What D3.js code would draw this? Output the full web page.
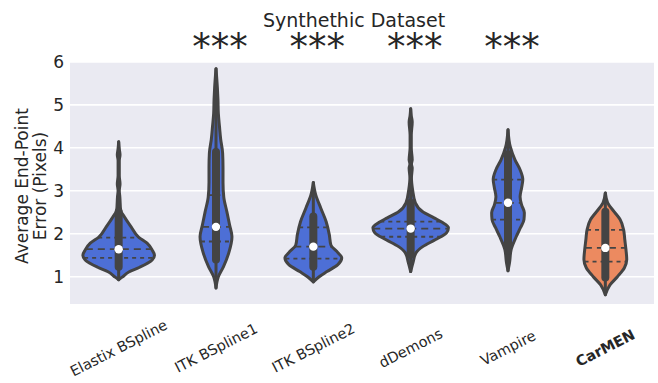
<!DOCTYPE html>
<html>
<head>
<meta charset="utf-8">
<script src="https://cdn.jsdelivr.net/npm/d3@7"></script>
<style>
  html, body { margin: 0; padding: 0; background: #ffffff; }
  svg { display: block; font-family: "DejaVu Sans", sans-serif; }
</style>
</head>
<body>
<svg id="chart" width="658" height="383"></svg>
<script>
// Registration methods compared on the synthetic dataset
const methods = ["Elastix BSpline", "ITK BSpline1", "ITK BSpline2", "dDemons", "Vampire", "CarMEN"];
const significance = ["", "***", "***", "***", "***", ""];
const yTicks = [1, 2, 3, 4, 5, 6];

// Kernel density profiles: [error in pixels, relative density]
const elastixProfile = [[0.93,0],[0.99,0.09],[1.11,0.26],[1.22,0.54],[1.39,0.86],[1.50,0.92],[1.62,0.86],[1.78,0.73],[1.92,0.51],[2.16,0.32],[2.39,0.15],[2.55,0.05],[2.86,0.03],[3.0,0.015],[3.16,0.035],[3.35,0.015],[3.7,0.015],[3.84,0.035],[3.98,0.015],[4.14,0]];
const itk1Profile = [[0.74,0],[1.0,0.06],[1.23,0.19],[1.56,0.33],[1.93,0.41],[2.2,0.35],[2.51,0.28],[2.85,0.2],[3.19,0.18],[3.55,0.18],[3.88,0.17],[4.2,0.12],[4.49,0.09],[4.8,0.06],[5.12,0.05],[5.4,0.035],[5.84,0]];
const itk2Profile = [[0.88,0],[1.0,0.15],[1.12,0.35],[1.28,0.63],[1.44,0.73],[1.56,0.63],[1.74,0.45],[1.98,0.41],[2.28,0.33],[2.60,0.19],[2.91,0.06],[3.19,0]];
const demonsProfile = [[1.12,0],[1.33,0.06],[1.56,0.14],[1.70,0.31],[1.86,0.63],[2.02,0.92],[2.14,0.97],[2.26,0.82],[2.37,0.60],[2.51,0.31],[2.72,0.12],[3.02,0.05],[3.3,0.02],[3.53,0.04],[3.62,0.02],[3.72,0.04],[4.0,0.015],[4.3,0.015],[4.6,0.04],[4.75,0.015],[4.91,0]];
const vampireProfile = [[1.14,0],[1.33,0.04],[1.63,0.08],[1.93,0.21],[2.14,0.32],[2.33,0.41],[2.49,0.42],[2.67,0.35],[2.86,0.31],[3.07,0.35],[3.26,0.38],[3.49,0.31],[3.72,0.18],[4.02,0.06],[4.42,0]];
const carmenProfile = [[0.58,0],[0.81,0.12],[1.0,0.31],[1.21,0.49],[1.40,0.55],[1.63,0.53],[1.86,0.50],[2.09,0.47],[2.33,0.38],[2.51,0.23],[2.72,0.06],[2.95,0]];

// Summary statistics per method
const medians   = [1.64, 2.16, 1.70, 2.12, 2.72, 1.67];
const quartile1 = [1.44, 1.82, 1.42, 1.93, 2.33, 1.35];
const quartile3 = [1.91, 2.90, 2.15, 2.28, 3.26, 2.09];
const boxLow    = [1.23, 1.40, 1.23, 1.51, 1.60, 0.98];
const boxHigh   = [2.51, 3.90, 2.40, 2.72, 3.85, 2.51];

const profiles = [elastixProfile, itk1Profile, itk2Profile, demonsProfile, vampireProfile, carmenProfile];

const svg = d3.select("#chart");
const plotLeft = 70, plotRight = 654, plotTop = 61, plotBottom = 304;
const gray = "#444444";
const blue = "#4d6fd6", orange = "#ec8a60";

const x = d3.scaleBand().domain(methods).range([plotLeft, plotRight]).padding(0);
const y = d3.scaleLinear().domain([0.365, 6.02]).range([plotBottom, plotTop]);
const halfWidth = d => d * x.bandwidth() * 0.4;

// Plot background and horizontal grid
svg.append("rect")
  .attr("x", plotLeft).attr("y", plotTop)
  .attr("width", plotRight - plotLeft).attr("height", plotBottom - plotTop)
  .attr("fill", "#eaeaf2");

svg.append("g").selectAll("line").data(yTicks).join("line")
  .attr("x1", plotLeft).attr("x2", plotRight)
  .attr("y1", d => y(d)).attr("y2", d => y(d))
  .attr("stroke", "#ffffff").attr("stroke-width", 1.6);

// Axes
const yAxis = svg.append("g")
  .attr("transform", `translate(${plotLeft},0)`)
  .call(d3.axisLeft(y).tickValues(yTicks).tickFormat(d3.format("d")).tickSize(0).tickPadding(6));
yAxis.select(".domain").remove();
yAxis.selectAll("text")
  .attr("font-size", 17).attr("fill", "#262626")
  .attr("font-family", "DejaVu Sans");

const xAxis = svg.append("g")
  .attr("transform", `translate(0,${plotBottom})`)
  .call(d3.axisBottom(x).tickSize(0));
xAxis.select(".domain").remove();
xAxis.selectAll("text")
  .attr("x", 0).attr("y", 0).attr("dy", "0.35em")
  .attr("text-anchor", "middle")
  .attr("transform", "translate(0,44) rotate(-27)")
  .attr("font-size", 14.5).attr("fill", "#262626")
  .attr("font-family", "DejaVu Sans")
  .attr("font-weight", d => d === "CarMEN" ? "bold" : "normal");

// Y axis label
const ylab = svg.append("g").attr("fill", "#262626").attr("font-size", 17);
ylab.append("text")
  .attr("transform", "translate(28,186) rotate(-90)")
  .attr("text-anchor", "middle")
  .text("Average End-Point");
ylab.append("text")
  .attr("transform", "translate(46,186) rotate(-90)")
  .attr("text-anchor", "middle")
  .text("Error (Pixels)");

// Title
svg.append("text")
  .attr("x", 354).attr("y", 27)
  .attr("text-anchor", "middle")
  .attr("font-size", 19).attr("fill", "#262626")
  .text("Synthethic Dataset");

// Significance markers
svg.append("g").selectAll("text").data(methods).join("text")
  .attr("x", d => x(d) + x.bandwidth() / 2 + 4)
  .attr("y", 60)
  .attr("text-anchor", "middle")
  .attr("font-size", 37).attr("fill", "#262626")
  .text((d, i) => significance[i]);

// Width of a profile at a given value, for quartile lines
function widthAt(profile, v) {
  for (let k = 1; k < profile.length; k++) {
    const a = profile[k - 1], b = profile[k];
    if (v >= a[0] && v <= b[0]) {
      const t = (v - a[0]) / (b[0] - a[0]);
      return a[1] + t * (b[1] - a[1]);
    }
  }
  return 0;
}

const violins = svg.append("g").selectAll("g").data(methods).join("g")
  .attr("transform", d => `translate(${x(d) + x.bandwidth() / 2},0)`);

violins.each(function(m, i) {
  const g = d3.select(this);
  const prof = profiles[i];
  const area = d3.area()
    .curve(d3.curveMonotoneY)
    .y(d => y(d[0]))
    .x0(d => -halfWidth(d[1]))
    .x1(d => halfWidth(d[1]));

  g.append("path")
    .attr("d", area(prof))
    .attr("fill", m === "CarMEN" ? orange : blue)
    .attr("stroke", gray).attr("stroke-width", 3)
    .attr("stroke-linejoin", "round");

  // Quartile lines
  [[quartile1[i], "4 4"], [medians[i], "7 5"], [quartile3[i], "4 4"]].forEach(([v, dash]) => {
    const w = halfWidth(widthAt(prof, v));
    g.append("line")
      .attr("x1", -w).attr("x2", w)
      .attr("y1", y(v)).attr("y2", y(v))
      .attr("stroke", gray).attr("stroke-width", 1.8)
      .attr("stroke-dasharray", dash);
  });

  // Whisker and box
  g.append("line")
    .attr("x1", 0).attr("x2", 0)
    .attr("y1", y(prof[0][0])).attr("y2", y(prof[prof.length - 1][0]))
    .attr("stroke", gray).attr("stroke-width", 3).attr("stroke-linecap", "round");
  g.append("line")
    .attr("x1", 0).attr("x2", 0)
    .attr("y1", y(boxLow[i])).attr("y2", y(boxHigh[i]))
    .attr("stroke", gray).attr("stroke-width", 8).attr("stroke-linecap", "round");

  // Median marker
  g.append("circle")
    .attr("cx", 0).attr("cy", y(medians[i]))
    .attr("r", 4.2).attr("fill", "#ffffff");
});
</script>
</body>
</html>
